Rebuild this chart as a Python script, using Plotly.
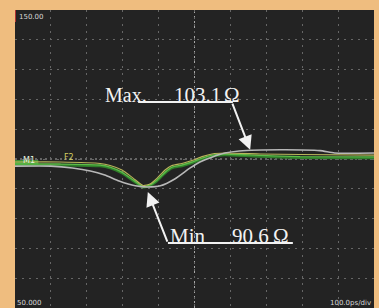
import plotly.graph_objects as go

# ---- data (time in ps, impedance in ohm) ----
gray_t = [0, 100, 160, 210, 250, 290, 335, 368, 405, 445, 488, 515, 550, 585, 625, 740, 850, 890, 1000]
gray_z = [97.6, 97.6, 97.0, 96.0, 94.6, 92.6, 91.0, 90.6, 91.0, 93.3, 97.0, 99.0, 100.7, 102.0, 102.7, 103.1, 102.8, 102.0, 102.0]

green_t = [0, 125, 237, 265, 298, 329, 357, 376, 396, 418, 437, 465, 493, 521, 549, 585, 683, 794, 1000]
green_z = [98.3, 98.3, 98.0, 97.3, 95.6, 93.0, 90.7, 91.3, 93.0, 95.6, 97.3, 98.0, 99.0, 100.3, 101.3, 101.7, 101.2, 100.8, 100.7]

dgreen_z = [97.9, 97.9, 97.6, 96.9, 95.2, 92.6, 90.5, 91.0, 92.6, 95.2, 96.9, 97.6, 98.6, 99.9, 100.9, 101.3, 100.8, 100.4, 100.3]

yellow_t = [0, 125, 237, 265, 298, 329, 357, 376, 396, 418, 437, 465, 493, 521, 549, 585, 683, 794, 1000]
yellow_z = [99.0, 99.0, 98.5, 97.8, 96.3, 93.6, 91.1, 91.6, 93.6, 96.3, 97.8, 98.5, 99.5, 100.8, 101.7, 102.0, 101.7, 101.5, 101.3]

y_top_label = "150.00"
y_bottom_label = "50.000"
x_scale_label = "100.0ps/div"

max_val, max_t = 103.1, 655
min_val, min_t = 90.6, 370

fig = go.Figure()
fig.add_trace(go.Scatter(x=green_t, y=dgreen_z, mode="lines",
                         line=dict(color="#2f7d2a", width=2.2, shape="spline", smoothing=0.5), hoverinfo="skip"))
fig.add_trace(go.Scatter(x=green_t, y=green_z, mode="lines",
                         line=dict(color="#5cbc48", width=1.4, shape="spline", smoothing=0.5), hoverinfo="skip"))
fig.add_trace(go.Scatter(x=yellow_t, y=yellow_z, mode="lines",
                         line=dict(color="#b9b65a", width=1.1, shape="spline", smoothing=0.5), hoverinfo="skip"))
fig.add_trace(go.Scatter(x=gray_t, y=gray_z, mode="lines",
                         line=dict(color="#b8b8b8", width=1.6, shape="spline", smoothing=0.5), hoverinfo="skip"))

serif = dict(family="Liberation Serif", size=20, color="#f2f2f2")
serif_n = dict(family="Liberation Serif", size=21, color="#f2f2f2")
small = dict(family="DejaVu Sans", size=7, color="#d8d8d8")

anns = [
    dict(x=245, y=121.5, text="Max.", xanchor="left", yanchor="middle", font=serif, showarrow=False),
    dict(x=437, y=121.5, text="103.1", xanchor="left", yanchor="middle", font=serif_n, showarrow=False),
    dict(x=576, y=121.5, text="Ω", xanchor="left", yanchor="middle", font=serif_n, showarrow=False),
    dict(x=426, y=74.2, text="Min", xanchor="left", yanchor="middle", font=serif_n, showarrow=False),
    dict(x=599, y=74.2, text="90.6", xanchor="left", yanchor="middle", font=serif_n, showarrow=False),
    dict(x=712, y=74.2, text="Ω", xanchor="left", yanchor="middle", font=serif_n, showarrow=False),
    dict(x=max_t, y=max_val, ax=604, ay=119.1, axref="x", ayref="y", text="", showarrow=True,
         arrowhead=2, arrowsize=1.4, arrowwidth=2, arrowcolor="#f2f2f2"),
    dict(x=min_t, y=min_val - 1.7, ax=426, ay=71.8, axref="x", ayref="y", text="", showarrow=True,
         arrowhead=2, arrowsize=1.4, arrowwidth=2, arrowcolor="#f2f2f2"),
    dict(x=5, y=147.8, text=y_top_label, xanchor="left", yanchor="middle", font=small, showarrow=False),
    dict(x=0, y=51.8, text=y_bottom_label, xanchor="left", yanchor="middle", font=small, showarrow=False),
    dict(x=998, y=51.8, text=x_scale_label, xanchor="right", yanchor="middle", font=small, showarrow=False),
    dict(x=60, y=99.4, text="M1", xanchor="right", yanchor="middle",
         font=dict(family="DejaVu Sans", size=8, color="#e8f5e0"), showarrow=False),
    dict(x=150, y=100.6, text="F2", xanchor="center", yanchor="middle",
         font=dict(family="DejaVu Sans", size=8, color="#d4d060"), showarrow=False),
]

shapes = [
    dict(type="line", x0=0, x1=1000, y0=100, y1=100, line=dict(color="#a8a8a8", width=1, dash="2px,3px"), layer="below"),
    dict(type="line", x0=500, x1=500, y0=50, y1=150, line=dict(color="#a8a8a8", width=1, dash="2px,3px"), layer="below"),
    dict(type="line", x0=343, x1=607, y0=119.1, y1=119.1, line=dict(color="#f2f2f2", width=2)),
    dict(type="line", x0=426, x1=774, y0=71.8, y1=71.8, line=dict(color="#f2f2f2", width=2)),
    dict(type="line", x0=0, x1=65, y0=98.8, y1=98.8, line=dict(color="#3f9a38", width=5), layer="below"),
    dict(type="line", x0=0, x1=0, y0=146, y1=150, line=dict(color="#b03030", width=2)),
]

fig.update_layout(
    width=379, height=308,
    margin=dict(l=15, r=5, t=10, b=0),
    paper_bgcolor="#efbd7f", plot_bgcolor="#232323",
    showlegend=False,
    annotations=anns, shapes=shapes,
    xaxis=dict(range=[0, 1000], dtick=100, showticklabels=False, zeroline=False,
               showgrid=True, gridcolor="#666666", griddash="2px,5px", gridwidth=1, fixedrange=True),
    yaxis=dict(range=[50, 150], dtick=10, showticklabels=False, zeroline=False,
               showgrid=True, gridcolor="#666666", griddash="2px,5px", gridwidth=1, fixedrange=True),
)

fig.write_html("out.html", config={"displayModeBar": False},
               post_script="document.body.style.margin='0';document.body.style.overflow='hidden';")
